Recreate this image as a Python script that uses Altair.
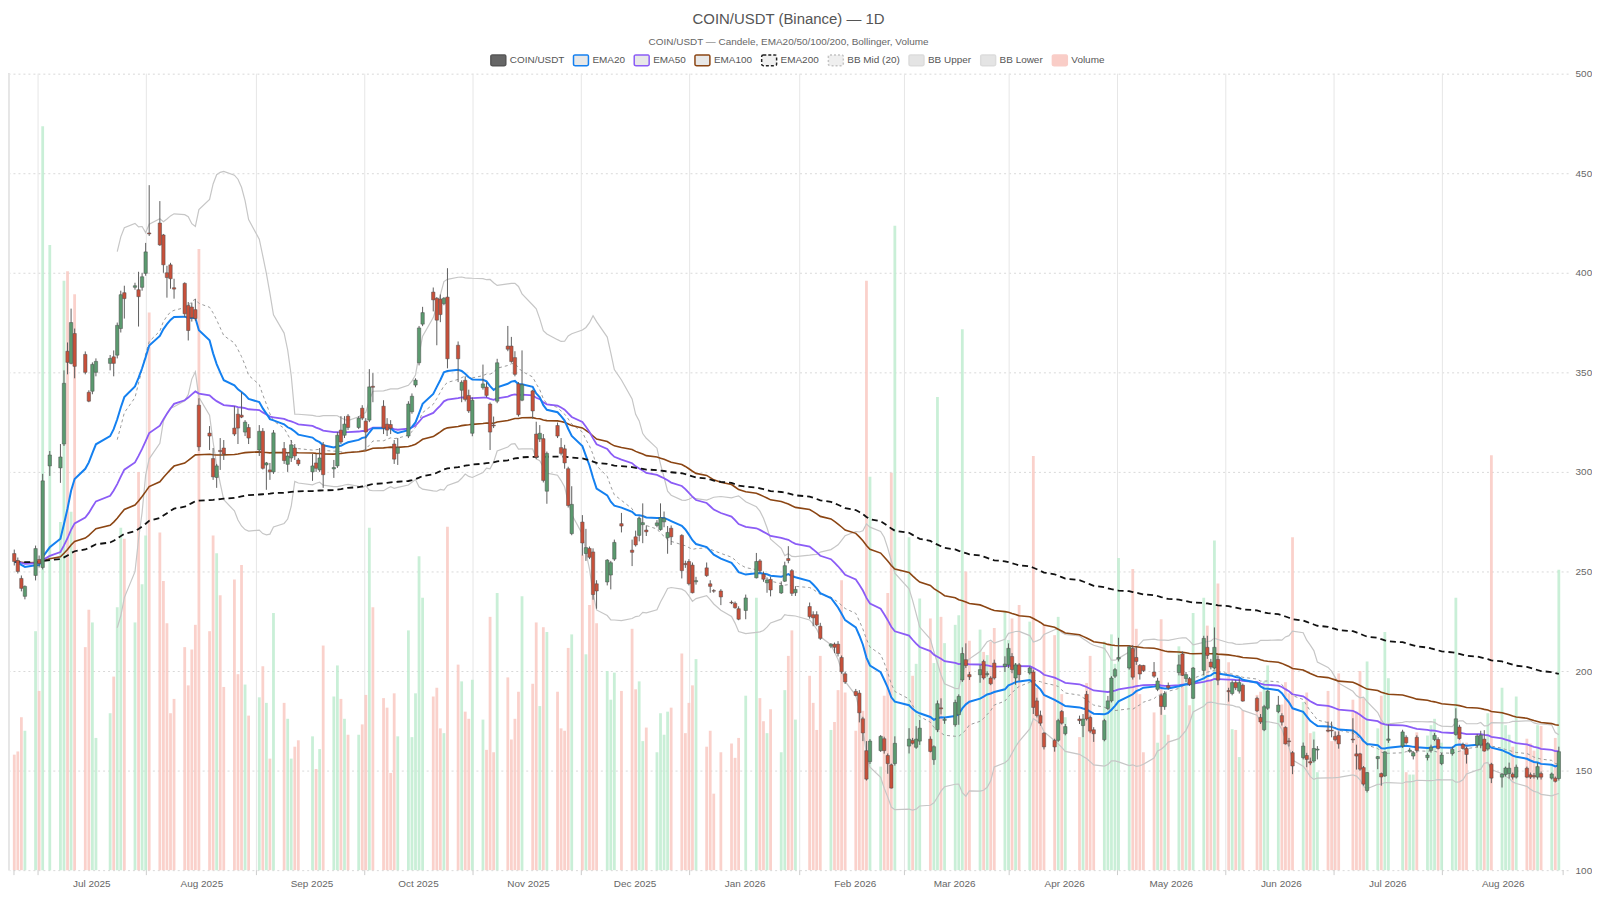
import altair as alt
import pandas as pd

FONT = "Liberation Sans"

# ---------------- data (one line per trading week) ----------------
open_ = [
    259, 255.5, 246.5, 237.5,
    248, 256, 252, 303,
    302, 314, 360.6, 354.5, 369.5,
    359, 340, 340.5, 350,
    354.5, 357.8, 358.6, 372, 390,
    392.7, 391.5, 392.7, 399.7, 420,
    425, 419, 400, 404, 392.5,
    394.7, 383.6, 382.8, 381.5, 333.5,
    319.5, 306.7, 297.2, 310.8, 312,
    322, 329, 328.5, 320, 322.3,
    311, 320.4, 303.5, 301, 300,
    311.7, 303.8, 307, 312, 306,
    300, 304.5, 301, 313.6,
    301.5, 303, 321, 318.4, 328,
    322.3, 332, 325.5, 326, 343,
    333, 324, 323.8, 314, 309.3,
    318, 330.2, 343.6, 354.8, 374.2,
    390.3, 387.2, 386.8, 384.5, 387.8,
    363.6, 341, 346, 338.4, 319.4,
    342.3, 342.6, 334.1, 323.5, 335.5,
    363.2, 363.2, 357.4, 344.2, 336,
    340.7, 319, 316.5, 316.7, 290.3,
    323.3, 312.2, 311.6, 301.6, 269,
    274.8, 259, 261.6, 259.8, 243.8,
    244.7, 248.2, 256.2, 274,
    260.7, 267.4, 268.1, 273.5, 270.8,
    273.1, 271, 274.9, 266.9, 271.7,
    268.1, 254, 255, 253.2, 244.8,
    251.8, 243.8, 240.4, 240.2,
    234.5, 234, 231.3, 230.4,
    246.8, 255.3, 248.6, 244.3, 246,
    239.2, 245.1, 256.5, 250.4, 239.3,
    232.4, 228.3, 228.3, 222.5,
    212.5, 213.5, 213.5, 206.8, 198.6,
    189.8, 188.9, 176, 160, 154.5,
    160, 166, 157.6, 152.9, 153.5,
    162.3, 165.2, 161.7, 164.8,
    165.8, 155.5, 170.5, 181.5, 175.2,
    173, 178, 195.5, 205.7, 198.2,
    198.1, 204.8, 198.2, 196.5, 204,
    202.3, 203.1, 207.3, 196.5, 203.1,
    199, 199.5, 185, 177.6, 168.8,
    165.2, 165.2, 179.7, 168.5,
    175.9, 172.6, 188.3, 176.7, 170.5,
    165.5, 181.2, 185, 197.4, 206,
    201.5, 211.4, 206.8, 202.8, 202.8,
    199.5, 190.8, 187.6, 182.1, 192.6,
    199.2, 208.6, 196.2, 196.2, 186.3,
    200.3, 211.9, 204.5, 201.5, 205.8,
    190.2, 188.7, 194.2, 189.9, 192.9,
    186.3, 176.7, 170.5, 181.3,
    179.6, 177.6, 171.7, 164.9, 159,
    156.5, 157.6, 154.5, 154.8, 160.3,
    170.3, 170.3, 167.2, 167.7,
    165.8, 158.4, 158.4, 151.5, 140,
    156, 148.5, 147.3, 165.2,
    162.3, 166.7, 159.7, 157.3, 166.7,
    156.5, 160.1, 165.6, 165.6, 153.5,
    158.5, 168.1, 171.9, 163.1, 161.1,
    162.8, 162.8, 165.8, 160.8, 153.2,
    146.7, 148, 148.5, 148.2, 146.7,
    151.2, 147.9, 147.5, 146.7, 148.5,
    146.2, 146.2, 146,
]
high = [
    261, 257, 248, 243,
    263, 258, 299, 310.5,
    314, 351, 365, 382, 372,
    360.5, 341, 355, 357,
    358.7, 361, 375, 391, 393.5,
    395, 400.5, 400, 415, 444,
    436, 419.5, 403.5, 405, 397,
    395.2, 385.3, 385, 386.9, 337,
    323, 312, 304, 317, 316,
    333, 332, 340, 326, 324,
    323.5, 322, 305, 304.5, 321,
    315, 310, 316, 314, 307,
    309, 309, 312, 315,
    306, 320, 328, 328, 329,
    328, 333.5, 327, 351.6, 349.6,
    336, 327, 326, 316, 317,
    335.5, 339.4, 347, 373.3, 382.9,
    392.6, 387.8, 389.1, 387.8, 402.3,
    365.5, 346, 348, 341.3, 337.4,
    353.9, 345.1, 334.9, 327.8, 356.8,
    373.3, 367.8, 360.6, 345.1, 361,
    341.3, 325.2, 323.5, 319, 310.2,
    324.8, 317, 313.6, 302.6, 292.8,
    278.3, 271.4, 262.5, 261.6, 245.6,
    256.2, 255.3, 266, 279.4,
    266, 270.5, 277.6, 284.2, 273.1,
    275.8, 284.2, 280.1, 272.8, 273.1,
    268.7, 255.4, 256.2, 254.5, 247.3,
    254.5, 245.6, 241.1, 241.1,
    235.4, 234.9, 232.5, 238.4,
    259.3, 256.2, 250, 247, 247.3,
    245, 254.9, 262.7, 251.2, 242.6,
    234.4, 230, 230, 224.2,
    214, 214.3, 215, 207.8, 199.6,
    191, 190.4, 177, 164.8, 165.8,
    167.8, 167, 158.6, 153.5, 167.2,
    171.3, 166.4, 172.3, 175.4,
    167.2, 162.7, 185.2, 186.3, 176.8,
    185.6, 188.3, 211.9, 213.9, 199.6,
    203.1, 205.7, 199.9, 197.4, 205.7,
    207.4, 213.9, 209, 204, 204,
    202.3, 200.7, 186.6, 180.1, 169.3,
    166, 176, 180.4, 173.4,
    177.6, 178.4, 190, 177.6, 171.8,
    176, 187.5, 197.4, 201.5, 216.7,
    213, 213, 212.2, 203.5, 203.1,
    204.5, 196.6, 188.7, 189.9, 194.2,
    208.1, 209.8, 199.5, 197, 202,
    217.7, 217.7, 206.1, 221.9, 207.8,
    191.6, 195.4, 195.4, 196.2, 193.7,
    187.1, 178.4, 183, 190.4,
    187.5, 178.8, 172.2, 166.4, 159.8,
    164.1, 158.9, 156.5, 165.6, 162.3,
    174.6, 174.6, 169.7, 169.7,
    176.3, 163, 158.9, 152.3, 149.3,
    157.3, 149, 159.7, 173.1,
    170.5, 167.7, 161.4, 159.7, 167.7,
    158.9, 163, 168.9, 166.7, 158.9,
    162, 181.3, 173, 164, 162,
    168.4, 170, 170.3, 164.3, 153.9,
    148.7, 152, 154, 149, 153,
    152, 149, 148.8, 154, 149.5,
    149, 147, 162,
]
low = [
    253, 249, 240, 236,
    245.5, 252, 251, 298,
    294.5, 313, 349, 354, 347,
    349, 335, 339, 348,
    351, 348, 357, 370, 377,
    391.5, 373, 391, 398.5, 418.5,
    413.5, 400, 387.5, 392, 387,
    377.7, 366, 375.5, 375.9, 310.5,
    311, 296, 292, 301, 306,
    318, 314, 327, 318, 314,
    308, 301.2, 291, 296, 299,
    304, 300, 305, 306, 303,
    295.5, 300, 300, 292,
    297, 302, 314, 317, 321,
    321.5, 326, 311, 325, 335,
    319, 318, 319, 304, 303.5,
    317, 329.2, 342.5, 353.5, 373.2,
    380.6, 363.6, 375.2, 383.7, 352,
    345.1, 335, 335.4, 329.6, 317.9,
    341.3, 337.4, 311, 322, 334.5,
    360.6, 354.8, 348, 327.8, 335.5,
    326.7, 306.4, 315, 294.7, 284,
    317, 308.3, 301.6, 282.1, 268.2,
    258, 255.3, 256.2, 235.8, 231.3,
    243, 241, 255.3, 269.6,
    252.7, 262.5, 265.1, 264.2, 267.8,
    272.2, 270.5, 272.2, 258.9, 263.3,
    246.5, 251.8, 243, 239, 243.4,
    247.3, 239.3, 239.3, 233.1,
    233.6, 231.3, 225.5, 226,
    246.5, 249.2, 244.8, 239.3, 237.5,
    238.7, 244.7, 254.1, 237.7, 237.7,
    226.3, 222.5, 222.5, 215.6,
    211.5, 209, 207.3, 198.6, 193.5,
    187.3, 174.2, 164.8, 145, 153.3,
    159.4, 158.5, 148.4, 141, 152.5,
    158.6, 163.1, 160.9, 162.9,
    159.1, 152.9, 169.3, 178.2, 173.5,
    172, 173, 194.5, 201.5, 195.5,
    194.1, 195.7, 197.2, 192.9, 195.7,
    199.5, 201.5, 198.9, 193.1, 195.1,
    198.2, 178.4, 176.7, 172.5, 160.6,
    159.5, 164.4, 173.1, 167.7,
    173.4, 166.8, 175.1, 168.8, 164.4,
    164.7, 180.4, 184.2, 196.5, 204.8,
    200.7, 195.7, 203.1, 195.7, 199.5,
    196.6, 189.9, 178, 180.5, 190.6,
    197.8, 197.5, 194.5, 192.5, 186,
    197.8, 206.1, 200.8, 200.8, 192.9,
    184.6, 187.8, 190.4, 188.7, 184.6,
    179.4, 173.4, 169.8, 180.5,
    178.8, 172.6, 163.1, 162.1, 148.2,
    155.6, 151.7, 152.7, 154, 155.6,
    169.2, 166.7, 164.7, 161,
    163.9, 150.5, 149.9, 142.4, 139,
    150.7, 142.4, 146.8, 163.9,
    161.4, 163.1, 159, 155.6, 159,
    155.1, 159, 164.8, 160.6, 152.7,
    157.5, 167.5, 165.5, 160.5, 153.5,
    161.5, 161.2, 159.5, 160, 143.7,
    141.5, 147, 146, 145.5, 146,
    146.2, 145.8, 146, 145.5, 145.5,
    145.5, 144, 145,
]
close = [
    255, 250, 241.5, 242.5,
    261.5, 254, 295.5, 308.5,
    307.5, 344.5, 355, 375, 353,
    350, 335.5, 354, 355.5,
    357, 354.5, 373.6, 389, 387,
    393.5, 388, 398, 410.5, 419.5,
    414, 404, 397.6, 397, 391.8,
    379.4, 371, 377.5, 377, 312.6,
    318, 297.5, 303, 310.2, 309,
    319, 322, 327.5, 325, 317,
    320.4, 301.8, 304.5, 300, 319.6,
    305.7, 308, 313.6, 308, 304,
    303, 301.8, 307, 298.6,
    302.2, 318.4, 315, 324, 322.3,
    327, 327, 320, 342.7, 342.5,
    322, 321, 321.9, 306.4, 312.2,
    334.1, 338, 346.1, 372.3, 380,
    386.4, 376.2, 379, 387.2, 356.8,
    356.8, 345, 336.4, 330.6, 336,
    344.2, 338.4, 320, 323.1, 354.8,
    361.6, 355.4, 349, 328.7, 343.8,
    330.6, 307.4, 319.4, 295.7, 309.3,
    318, 309.3, 304.5, 283.1, 283.7,
    264.3, 262, 257.1, 238.4, 240.2,
    255.7, 254.4, 264.6, 272.8,
    259.6, 263.3, 276.7, 274.5, 269.9,
    274.4, 277, 276.7, 269.6, 267.4,
    250.4, 253.4, 243.8, 239.3, 245.4,
    247.9, 242.5, 240.1, 237.2,
    234.2, 231.8, 226, 236.7,
    255, 250.4, 246.1, 245.7, 240.7,
    243, 252.9, 255.5, 239, 241,
    227.3, 226.7, 223.2, 216.4,
    213.5, 211.9, 208.8, 199.6, 194.5,
    187.7, 179, 168.9, 145.7, 164.8,
    167.2, 160, 153.5, 141.2, 163.7,
    165.8, 163.7, 165.8, 171.3,
    159.6, 162, 183.6, 181, 175.8,
    184.2, 187.3, 208.8, 202.7, 197.1,
    200.7, 196.5, 198.7, 193.6, 196.5,
    203.5, 211.4, 200.7, 203.1, 198.2,
    201.5, 181.7, 177.6, 173.8, 161.9,
    161.9, 175.1, 173.8, 172.1,
    175.1, 175.9, 175.9, 169.8, 168.5,
    175.1, 185, 196.5, 200.7, 206.8,
    212.2, 196.9, 204.8, 198.5, 200.2,
    197.4, 195, 182.2, 188.7, 191.6,
    203.1, 197.8, 198.2, 193.2, 201.5,
    216.4, 207.8, 202, 211.9, 195.4,
    189.6, 194.2, 191.6, 194.2, 184.9,
    180, 174.4, 182.1, 189.9,
    182.9, 174.3, 163.4, 164.5, 152.3,
    162.3, 155.6, 153.8, 161.1, 160.8,
    169.8, 169.9, 165.5, 163.4,
    165.4, 157.3, 150.7, 143.2, 149,
    157, 146.8, 159.4, 165.9,
    169.4, 163.9, 160.3, 159, 160.1,
    157.8, 161.8, 167.7, 161.1, 157.8,
    160.7, 176, 166.1, 161.1, 158.1,
    167.4, 167.8, 159.8, 163.5, 146.2,
    148.2, 151.3, 151.2, 146.7, 151.7,
    146.7, 146.7, 146.9, 152, 146.7,
    148.3, 144.6, 159.5,
]
# volume, in percent of the plot height
volume = [
    14.5, 14.9, 19.2, 17.5,
    30, 22.5, 93.4, 78.5,
    43.7, 74, 75.2, 45, 72.3,
    28, 32.7, 31.1, 16.6,
    19.7, 24.3, 33, 43, 41.6,
    31.1, 50, 35.9, 42, 70,
    42.4, 36.3, 31, 19.7, 21.5,
    28, 23.2, 27.7, 30.8, 78,
    30, 42, 39.8, 34.5, 23,
    36.5, 24.6, 38.3, 23.3, 19.4,
    21.7, 25.6, 21, 14, 32.3,
    21, 19, 14, 15.5, 16.3,
    16.8, 12.7, 15.2, 28.2,
    21.8, 25.7, 21.5, 19, 17,
    17, 18.3, 22, 43, 33,
    21.6, 20.4, 12.2, 22.2, 16.8,
    30.1, 16.7, 22.2, 39.4, 34.2,
    21.8, 22.9, 17.8, 17.2, 43.1,
    25.8, 23.7, 19.9, 19, 23.9,
    18.9, 15.1, 31.8, 14.8, 34.8,
    24.2, 16.4, 19, 22.4, 34.4,
    23.4, 31.1, 20.6, 30.5, 29.9,
    22.4, 17.8, 17.5, 27.9, 29.6,
    39.6, 27.1, 33.3, 35, 31,
    25, 21.4, 24.8, 22.5,
    30.3, 22.7, 23.7, 16.2, 17.9,
    14.8, 19.7, 17, 19.9, 20.4,
    27.2, 17.2, 21, 23.2, 26.5,
    15.5, 17.5, 9.6, 14.8,
    15.9, 14.1, 16.6, 21.9,
    34.2, 21.6, 18.7, 17.2, 20.2,
    14.8, 22.6, 26.9, 30.1, 18.9,
    24.4, 21, 17.6, 26.9,
    17.6, 18.6, 22.6, 36.4, 22.3,
    17.5, 21, 20, 74, 49.4,
    13, 21.9, 34.8, 49.9, 80.9,
    41.8, 24.4, 25.9, 34.1,
    31.6, 26, 59.4, 31.8, 28.5,
    30.8, 32, 67.9, 37.5, 28.8,
    30.2, 27.4, 27, 28.7, 30.4,
    32.4, 28.9, 31.6, 26, 33.3,
    31.2, 52, 22.9, 19.6, 30.8,
    29.5, 31.8, 22.1, 19.2,
    16.7, 18.3, 23.5, 26.9, 17.5,
    28.7, 20.8, 29.6, 25.9, 39.2,
    25.6, 37.8, 30.3, 22.1, 14.8,
    19.8, 16, 31.5, 19.5, 17,
    28.1, 27, 24, 20.7, 32.3,
    34.2, 30.7, 24, 41.4, 36,
    26.1, 17.7, 17.6, 14.2, 20.1,
    22, 22.4, 23.7, 25.7,
    20.3, 20.8, 23.6, 22.2, 41.8,
    21.1, 22.3, 17.2, 17.4, 12.3,
    22.5, 16.2, 17.4, 24.7,
    21.4, 19.9, 25, 21.6, 26.2,
    17.8, 21.9, 29.9, 24.1,
    17.4, 12.3, 12, 12, 17.3,
    16.9, 18.2, 19, 15.5, 16,
    15, 34.2, 17.9, 15, 16,
    16.6, 16.3, 16, 19.7, 52.1,
    22.9, 18.2, 17, 15.5, 21.8,
    16.5, 15.9, 15, 18.2, 18.1,
    13.3, 16.6, 37.7,
]

market_holidays = [
    "2025-06-19", "2025-07-04", "2025-09-01", "2025-11-27", "2025-12-25",
    "2026-01-01", "2026-01-19", "2026-02-16", "2026-04-03", "2026-05-25",
    "2026-06-19", "2026-07-03",
]
series_names = ["COIN/USDT", "EMA20", "EMA50", "EMA100", "EMA200",
                "BB Mid (20)", "BB Upper", "BB Lower", "Volume"]
price_ticks = [100, 150, 200, 250, 300, 350, 400, 450, 500]
grid_months = ["2025-06-01", "2025-07-01", "2025-08-01", "2025-09-01", "2025-10-01",
               "2025-11-01", "2025-12-01", "2026-01-01", "2026-02-01", "2026-03-01",
               "2026-04-01", "2026-05-01", "2026-06-01", "2026-07-01"]

# ---------------- frame ----------------
dates = pd.bdate_range("2025-06-10", "2026-08-19", freq="C", holidays=market_holidays)
n = min(len(dates), len(open_), len(high), len(low), len(close), len(volume))
df = pd.DataFrame({
    "date": dates[:n].strftime("%Y-%m-%d"),
    "open": open_[:n], "high": high[:n], "low": low[:n],
    "close": close[:n], "vol": volume[:n],
})
c = df["close"]
for span in (20, 50, 100, 200):
    df[f"ema{span}"] = c.ewm(span=span, adjust=False).mean().round(3)
mid = c.rolling(20).mean()
sd = c.rolling(20).std(ddof=0)
df["bb_mid"] = mid.round(3)
df["bb_up"] = (mid + 2 * sd).round(3)
df["bb_lo"] = (mid - 2 * sd).round(3)

def ms(ts):
    return int(pd.Timestamp(ts).tz_localize("UTC").value // 10**6)

T0 = pd.Timestamp("2025-06-09T22:00")
T1 = pd.Timestamp("2026-08-20T05:00")
X0, X1 = ms(T0), ms(T1)

# split lines around the middle of each month
splits = [pd.Timestamp(s) + pd.Timedelta(days=pd.Timestamp(s).days_in_month / 2 + 0.7)
          for s in grid_months]
# month labels: at the start of each month; the last one sits between the last split and the end
label_ms = [ms(pd.Timestamp(s) + pd.Timedelta(days=0.7)) for s in grid_months[1:]]
label_ms.append(ms(splits[-1] + (T1 - splits[-1]) / 2))

grid_df = pd.DataFrame({"d": [ms(t) for t in splits]})
tick_df = pd.DataFrame({"t": [X0] + [ms(t) for t in splits] + [X1]})

xscale = alt.Scale(type="utc", domain=[X0, X1], nice=False)
yscale = alt.Scale(domain=[100, 500], nice=False, zero=False)

UP = "#5b9a6f"
DN = "#c8503a"
is_up = "datum.close >= datum.open"

X_AXIS = alt.Axis(values=label_ms, labelExpr="utcFormat(datum.value, '%b %Y')", title=None,
                  labelFont=FONT, labelFontSize=10, labelColor="#666", ticks=False,
                  domain=False, grid=False, labelPadding=8, labelFlush=False,
                  labelOverlap=False)
Y_AXIS = alt.Axis(values=price_ticks, orient="right", title=None, grid=True,
                  gridDash=[2, 3], gridColor="#d9d9d9", ticks=False, domain=False,
                  labelFont=FONT, labelFontSize=10, labelColor="#666", labelPadding=7)

base = alt.Chart(df)

def X(field="date"):
    return alt.X(f"{field}:T", scale=xscale, axis=X_AXIS)

def Y(field):
    return alt.Y(f"{field}:Q", scale=yscale, axis=Y_AXIS)

vgrid = alt.Chart(grid_df).mark_rule(color="#e6e6e6", strokeWidth=1).encode(x=X("d"))
left_edge = alt.Chart(grid_df).mark_rule(color="#e6e6e6", strokeWidth=1).encode(
    x=alt.value(0))
xticks = alt.Chart(tick_df).mark_rule(color="#cccccc", strokeWidth=1).encode(
    x=X("t"), y=alt.value(800), y2=alt.value(805))

# volume drawn in the price band: 0..100 % of height maps to 100..500
vol_layer = base.transform_calculate(vtop="100 + datum.vol * 4").mark_bar(
    size=2.8, opacity=0.85).encode(
    x=X(), y=Y("vtop"), y2=alt.datum(100),
    fill=alt.condition(is_up, alt.value("#bfecd0"), alt.value("#f9c9c2")),
)

def line(field, color, width, dash=None):
    kw = dict(color=color, strokeWidth=width)
    if dash:
        kw["strokeDash"] = dash
    return base.mark_line(**kw).encode(x=X(), y=Y(field))

bb_up = line("bb_up", "#c6c6c6", 1.2)
bb_lo = line("bb_lo", "#c6c6c6", 1.2)
bb_mid = line("bb_mid", "#9a9a9a", 1, [3, 3])
ema100 = line("ema100", "#8b4513", 1.6)
ema50 = line("ema50", "#8b5cf6", 1.8)
ema20 = line("ema20", "#1480f0", 2)
ema200 = line("ema200", "#111111", 1.8, [6, 4])

wick = base.mark_rule(color="#5e5e5e", strokeWidth=1).encode(
    x=X(), y=Y("low"), y2="high:Q")
body = base.mark_bar(size=3.4, stroke="#4d4d4d", strokeWidth=0.5).encode(
    x=X(), y=Y("open"), y2="close:Q",
    fill=alt.condition(is_up, alt.value(UP), alt.value(DN)),
)

# legend
leg_fill = ["#666666", "#e8e8e8", "#e8e8e8", "#e8e8e8", "#f0f0f0", "#efefef", "#e4e4e4", "#e4e4e4", "#f9cdc7"]
leg_stroke = ["#555555", "#1480f0", "#8b5cf6", "#8b4513", "#222222", "#c4c4c4", "#dcdcdc", "#dcdcdc", "#f9cdc7"]
leg_dash = [[1, 0], [1, 0], [1, 0], [1, 0], [3, 2], [2, 2], [1, 0], [1, 0], [1, 0]]
SWATCH = ("M-0.78,-0.72L0.78,-0.72Q1,-0.72 1,-0.5L1,0.5Q1,0.72 0.78,0.72L-0.78,0.72"
          "Q-1,0.72 -1,0.5L-1,-0.5Q-1,-0.72 -0.78,-0.72Z")
legend = alt.Legend(orient="none", legendX=483, legendY=-22, direction="horizontal",
                    title=None, symbolType=SWATCH, symbolSize=225, symbolStrokeWidth=1.5,
                    symbolOpacity=1, labelFont=FONT, labelFontSize=10, labelColor="#555",
                    labelOffset=3, columnPadding=6, padding=0)
leg_layer = alt.Chart(pd.DataFrame({"series": series_names})).mark_point(
    filled=True, opacity=0, size=1).encode(
    x=alt.value(400), y=alt.value(400),
    fill=alt.Fill("series:N", scale=alt.Scale(domain=series_names, range=leg_fill), legend=legend),
    stroke=alt.Stroke("series:N", scale=alt.Scale(domain=series_names, range=leg_stroke), legend=legend),
    strokeDash=alt.StrokeDash("series:N", scale=alt.Scale(domain=series_names, range=leg_dash), legend=legend),
)

chart = alt.layer(
    vgrid, left_edge, xticks, vol_layer,
    bb_up, bb_lo, bb_mid, ema100, ema50, ema20, ema200, wick, body, leg_layer,
).properties(
    width=1566, height=800,
    padding={"left": 0, "top": 2, "right": 0, "bottom": 0},
    title=alt.TitleParams(
        text="COIN/USDT (Binance) — 1D",
        subtitle="COIN/USDT — Candele, EMA20/50/100/200, Bollinger, Volume",
        font=FONT, fontSize=15, fontWeight="normal", color="#555555",
        subtitleFont=FONT, subtitleFontSize=10, subtitleColor="#666666",
        anchor="middle", offset=5, subtitlePadding=10),
).configure(background="white", view=alt.ViewConfig(stroke=None))

chart.save("out.html", embed_options={"renderer": "svg", "actions": False})
